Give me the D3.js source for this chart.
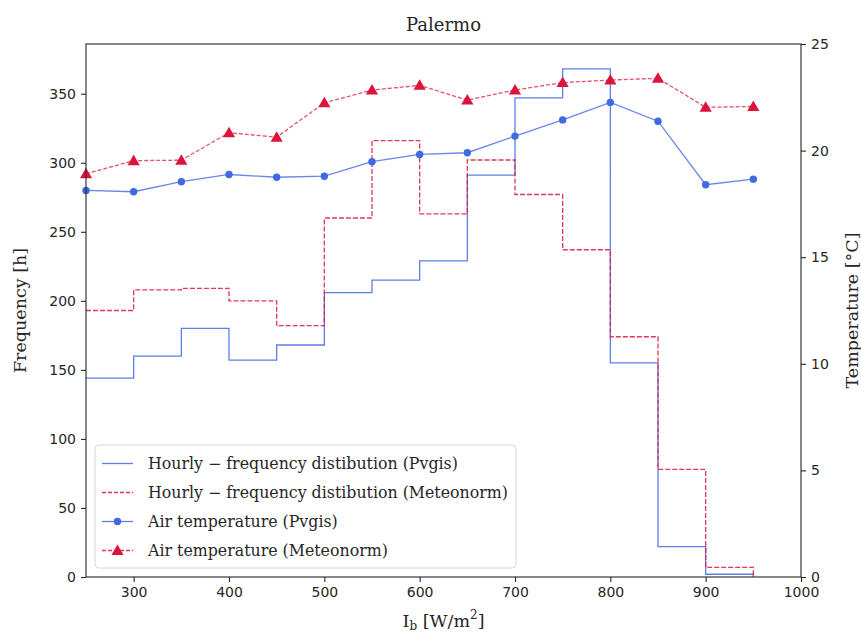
<!DOCTYPE html>
<html>
<head>
<meta charset="utf-8">
<script src="https://cdn.jsdelivr.net/npm/d3@7"></script>
<style>
  body { margin: 0; background: #fff; }
  svg { display: block; }
  .tick text { font-family: "DejaVu Sans", sans-serif; font-size: 14px; fill: #262626; }
</style>
</head>
<body>
<svg id="chart"></svg>
<script>
// bin edges of irradiance (W/m2)
const binEdges = [250, 300, 350, 400, 450, 500, 550, 600, 650, 700, 750, 800, 850, 900, 950]
// hourly frequency per bin
const freqPvgis = [144, 160, 180, 157, 168, 206, 215, 229, 291, 347, 368, 155, 22, 2]
const freqMeteo = [193, 208, 209, 200, 182, 260, 316, 263, 302, 277, 237, 174, 78, 7]
// air temperature at each irradiance level
const tempX = [250, 300, 350, 400, 450, 500, 550, 600, 650, 700, 750, 800, 850, 900, 950]
const tempPvgis = [18.13, 18.07, 18.54, 18.88, 18.75, 18.80, 19.48, 19.82, 19.90, 20.68, 21.44, 22.26, 21.38, 18.40, 18.66]
const tempMeteo = [18.91, 19.53, 19.55, 20.84, 20.63, 22.24, 22.84, 23.06, 22.37, 22.84, 23.19, 23.31, 23.39, 22.03, 22.07]
const xTicks = [300, 400, 500, 600, 700, 800, 900, 1000]
const yTicks = [0, 50, 100, 150, 200, 250, 300, 350]
const y2Ticks = [0, 5, 10, 15, 20, 25]

const width = 861, height = 635
const margin = {top: 44, right: 60, bottom: 58, left: 86}
const blue = "royalblue", red = "crimson"

const svg = d3.select("#chart").attr("width", width).attr("height", height)

const x = d3.scaleLinear().domain([250, 1000]).range([margin.left, width - margin.right])
const y = d3.scaleLinear().domain([0, 386]).range([height - margin.bottom, margin.top])
const y2 = d3.scaleLinear().domain([0, 25]).range([height - margin.bottom, margin.top])

const plot = svg.append("g")

// step histograms (left edge sits on the frame, so start at the first bar top)
function stepPoints(counts) {
  const pts = []
  counts.forEach((c, i) => {
    pts.push([binEdges[i], c])
    pts.push([binEdges[i + 1], c])
  })
  pts.push([binEdges[counts.length], 0])
  return pts
}
const stepLine = d3.line().x(d => x(d[0])).y(d => y(d[1]))

plot.append("path")
    .attr("d", stepLine(stepPoints(freqPvgis)))
    .attr("fill", "none")
    .attr("stroke", blue)
    .attr("stroke-opacity", 0.85)
    .attr("stroke-width", 1.3)

plot.append("path")
    .attr("d", stepLine(stepPoints(freqMeteo)))
    .attr("fill", "none")
    .attr("stroke", red)
    .attr("stroke-opacity", 0.85)
    .attr("stroke-width", 1.3)
    .attr("stroke-dasharray", "5,2")

// temperature lines
const tLine = d3.line().x((d, i) => x(tempX[i])).y(d => y2(d))

plot.append("path")
    .attr("d", tLine(tempPvgis))
    .attr("fill", "none")
    .attr("stroke", blue)
    .attr("stroke-opacity", 0.8)
    .attr("stroke-width", 1.3)

plot.selectAll(".dotP").data(tempPvgis).join("circle")
    .attr("cx", (d, i) => x(tempX[i]))
    .attr("cy", d => y2(d))
    .attr("r", 3.7)
    .attr("fill", blue)

plot.append("path")
    .attr("d", tLine(tempMeteo))
    .attr("fill", "none")
    .attr("stroke", red)
    .attr("stroke-opacity", 0.75)
    .attr("stroke-width", 1.3)
    .attr("stroke-dasharray", "4,2")

const tri = d3.symbol().type(d3.symbolTriangle).size(64)
plot.selectAll(".triM").data(tempMeteo).join("path")
    .attr("d", tri)
    .attr("transform", (d, i) => `translate(${x(tempX[i])},${y2(d) + 1})`)
    .attr("fill", red)

// axes
svg.append("g")
   .attr("transform", `translate(0,${height - margin.bottom})`)
   .call(d3.axisBottom(x).tickValues(xTicks).tickFormat(d3.format("d")).tickSize(5).tickPadding(5))
svg.append("g")
   .attr("transform", `translate(${margin.left},0)`)
   .call(d3.axisLeft(y).tickValues(yTicks).tickSize(5).tickPadding(5))
svg.append("g")
   .attr("transform", `translate(${width - margin.right},0)`)
   .call(d3.axisRight(y2).tickValues(y2Ticks).tickSize(5).tickPadding(5))
svg.selectAll(".domain").remove()
svg.selectAll(".tick line").attr("stroke", "#262626").attr("stroke-width", 1.1)

// frame
svg.append("rect")
   .attr("x", margin.left).attr("y", margin.top)
   .attr("width", width - margin.left - margin.right)
   .attr("height", height - margin.top - margin.bottom)
   .attr("fill", "none").attr("stroke", "#262626").attr("stroke-width", 1.1)

// titles
const serif = "'DejaVu Serif', serif"
svg.append("text")
   .attr("x", (margin.left + width - margin.right) / 2).attr("y", 31)
   .attr("text-anchor", "middle").attr("font-family", serif).attr("font-size", 18)
   .attr("fill", "#262626").text("Palermo")

svg.append("text")
   .attr("transform", `translate(26,${(margin.top + height - margin.bottom) / 2}) rotate(-90)`)
   .attr("text-anchor", "middle").attr("font-family", serif).attr("font-size", 17.5)
   .attr("fill", "#262626").text("Frequency [h]")

svg.append("text")
   .attr("transform", `translate(858,${(margin.top + height - margin.bottom) / 2}) rotate(-90)`)
   .attr("text-anchor", "middle").attr("font-family", serif).attr("font-size", 17.5)
   .attr("fill", "#262626").text("Temperature [°C]")

const xl = svg.append("text")
   .attr("x", (margin.left + width - margin.right) / 2).attr("y", 627)
   .attr("text-anchor", "middle").attr("font-family", serif).attr("font-size", 17.5)
   .attr("fill", "#262626")
xl.append("tspan").text("I")
xl.append("tspan").attr("font-size", 12).attr("dy", 3).text("b")
xl.append("tspan").attr("dy", -3).text(" [W/m")
xl.append("tspan").attr("font-size", 12).attr("dy", -8).text("2")
xl.append("tspan").attr("dy", 8).text("]")

// legend
const legendItems = [
  {label: "Hourly \u2212 frequency distibution (Pvgis)", color: blue, dash: null, marker: null},
  {label: "Hourly \u2212 frequency distibution (Meteonorm)", color: red, dash: "4,2", marker: null},
  {label: "Air temperature (Pvgis)", color: blue, dash: null, marker: "circle"},
  {label: "Air temperature (Meteonorm)", color: red, dash: "4,2", marker: "triangle"}
]
const lg = svg.append("g").attr("transform", "translate(95,445)")
lg.append("rect")
  .attr("width", 421).attr("height", 123).attr("rx", 4)
  .attr("fill", "white").attr("fill-opacity", 0.8)
  .attr("stroke", "#d6d6d6").attr("stroke-width", 1)

legendItems.forEach((it, i) => {
  const row = lg.append("g").attr("transform", `translate(0,${18.5 + i * 29})`)
  row.append("line")
     .attr("x1", 7).attr("x2", 38)
     .attr("stroke", it.color).attr("stroke-width", 1.3).attr("stroke-opacity", 0.85)
     .attr("stroke-dasharray", it.dash)
  if (it.marker === "circle") {
    row.append("circle").attr("cx", 22.5).attr("r", 3.7).attr("fill", it.color)
  } else if (it.marker === "triangle") {
    row.append("path").attr("d", tri).attr("transform", "translate(22.5,1)").attr("fill", it.color)
  }
  row.append("text")
     .attr("x", 53).attr("dy", "0.35em")
     .attr("font-family", serif).attr("font-size", 15.8)
     .attr("fill", "#262626").text(it.label)
})
</script>
</body>
</html>
